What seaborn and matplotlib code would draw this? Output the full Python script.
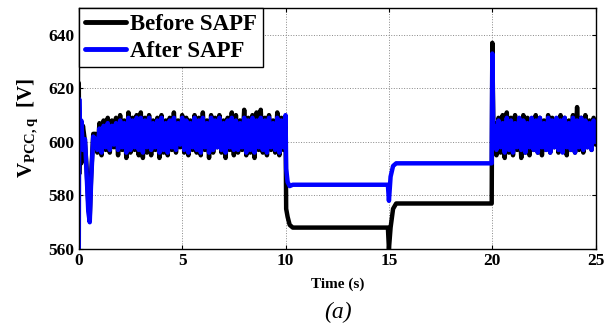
import numpy as np
import pandas as pd
import seaborn as sns
import matplotlib.pyplot as plt

# ---- data (V_PCC,q in volts, time in seconds) ----
t_start = [0.0, 0.02, 0.06, 0.12, 0.2, 0.3, 0.38, 0.46, 0.53, 0.6, 0.7]
before_start = [622, 588, 604, 592, 606, 600, 590, 577, 572, 588, 603]
after_start = [560, 616, 598, 608, 597, 601, 588, 574, 570, 586, 602]

# noisy band 0.8 .. 10.0 s, one sample every 0.1 s
t_noise1 = np.round(np.arange(0.8, 10.05, 0.1), 2)
before_noise1 = [603, 596, 607, 595, 608, 597, 609, 596, 608, 598,
                 609, 595, 610, 597, 608, 594, 611, 596, 609, 597,
                 610, 595, 611, 594, 609, 596, 610, 595, 608, 597,
                 609, 594, 610, 596, 608, 595, 609, 597, 611, 596,
                 608, 598, 610, 596, 609, 595, 608, 597, 610, 596,
                 609, 595, 611, 597, 608, 594, 610, 596, 609, 598,
                 610, 596, 608, 594, 609, 597, 611, 595, 610, 596,
                 608, 597, 612, 595, 609, 596, 610, 594, 611, 597,
                 612, 596, 609, 595, 610, 597, 608, 596, 611, 595,
                 609, 597, 607]
after_noise1 = [601, 597, 605, 596, 606, 598, 607, 597, 606, 599,
                607, 597, 608, 598, 607, 596, 609, 597, 608, 598,
                609, 597, 609, 596, 608, 598, 609, 597, 607, 598,
                608, 596, 609, 597, 607, 596, 608, 598, 609, 597,
                607, 599, 609, 597, 608, 596, 607, 598, 609, 597,
                608, 596, 609, 598, 607, 596, 609, 597, 608, 598,
                609, 597, 607, 596, 608, 598, 609, 597, 608, 597,
                607, 598, 609, 596, 608, 597, 609, 596, 608, 598,
                609, 597, 608, 596, 609, 598, 607, 597, 609, 596,
                608, 598, 610]

# load steps 10 .. 20 s and the spike at 20 s
t_mid = [10.03, 10.1, 10.2, 10.35, 12.5, 14.95, 15.0, 15.08, 15.2, 15.35, 17.5, 19.97, 20.0, 20.05]
before_mid = [575, 572, 569, 568, 568, 568, 560, 568, 575, 577, 577, 577, 637, 605]
after_mid = [590, 585, 583.5, 584, 584, 584, 578, 587, 591, 592, 592, 592, 633, 603]

# noisy band 20.1 .. 25.0 s
t_noise2 = np.round(np.arange(20.1, 25.05, 0.1), 2)
before_noise2 = [607, 595, 609, 596, 610, 594, 611, 596, 609, 595,
                 610, 597, 608, 594, 610, 596, 609, 595, 608, 597,
                 610, 596, 609, 595, 608, 597, 610, 596, 609, 598,
                 608, 596, 610, 597, 609, 595, 608, 597, 610, 596,
                 613, 597, 609, 596, 610, 598, 608, 597, 609, 599]
after_noise2 = [606, 597, 608, 598, 607, 596, 609, 597, 608, 596,
                607, 598, 609, 597, 608, 596, 607, 598, 609, 597,
                608, 596, 609, 598, 607, 597, 609, 596, 608, 598,
                609, 597, 608, 596, 609, 598, 607, 597, 609, 596,
                608, 598, 609, 597, 608, 598, 607, 597, 608, 600]

labels = ["Before SAPF", "After SAPF"]
colors = ["black", "blue"]

t_all = np.concatenate([t_start, t_noise1, t_mid, t_noise2])
df = pd.concat([
    pd.DataFrame({"t": t_all, "v": np.concatenate([before_start, before_noise1, before_mid, before_noise2]),
                  "case": labels[0]}),
    pd.DataFrame({"t": t_all, "v": np.concatenate([after_start, after_noise1, after_mid, after_noise2]),
                  "case": labels[1]}),
], ignore_index=True)

# ---- style ----
sns.set_style("ticks")
plt.rcParams["font.family"] = ["Liberation Serif", "DejaVu Serif"]
plt.rcParams["mathtext.fontset"] = "custom"
plt.rcParams["mathtext.rm"] = "Liberation Serif"
plt.rcParams["mathtext.bf"] = "Liberation Serif:bold"
plt.rcParams["mathtext.it"] = "Liberation Serif:italic"
for key in ["text.color", "axes.labelcolor", "xtick.color", "ytick.color"]:
    plt.rcParams[key] = "black"

fig = plt.figure(figsize=(6.06, 3.27), dpi=100)
ax = fig.add_axes([0.130, 0.2385, 0.853, 0.737])

sns.lineplot(data=df, x="t", y="v", hue="case", hue_order=labels,
             palette=dict(zip(labels, colors)), estimator=None, sort=True,
             linewidth=3.2, ax=ax)

ax.set_xlim(0, 25)
ax.set_ylim(560, 650)
ax.set_xticks([0, 5, 10, 15, 20, 25])
ax.set_yticks([560, 580, 600, 620, 640])
ax.grid(True, color="#888888", linestyle=":", linewidth=0.7)
ax.tick_params(direction="in", length=3, width=0.8, top=True, right=True,
               labelsize=12.5, pad=3)
for lab in ax.get_xticklabels() + ax.get_yticklabels():
    lab.set_fontweight("bold")
for sp in ax.spines.values():
    sp.set_linewidth(1.0)
    sp.set_color("black")

ax.set_xlabel("Time (s)", fontsize=11, fontweight="bold", labelpad=6)
ax.set_ylabel(r"V$_{\mathbf{PCC,q}}$  [V]", fontsize=15, fontweight="bold", labelpad=6)

leg = ax.legend(loc="upper left", borderaxespad=0, frameon=True,
                fancybox=False, framealpha=1, edgecolor="black",
                handlelength=1.8, handletextpad=0.2, borderpad=0.25, labelspacing=0.25,
                prop={"weight": "bold", "size": 16.5})
leg.get_frame().set_linewidth(1.0)
for h in leg.get_lines():
    h.set_linewidth(3.5)
for txt in leg.get_texts():
    txt.set_color("black")

fig.text(0.557, 0.045, "(a)", fontsize=17, style="italic", ha="center", va="center")

fig.savefig("out.png", dpi=100)
